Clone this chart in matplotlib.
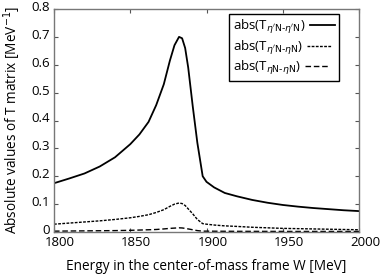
import matplotlib
matplotlib.use('Agg')
import matplotlib.pyplot as plt
import matplotlib.transforms as mtransforms
import numpy as np

W = [1800, 1810, 1820, 1830, 1840, 1850, 1856, 1862, 1867, 1872, 1876, 1879,
     1882, 1884, 1886, 1888, 1891, 1894, 1897.5, 1900, 1905, 1912, 1920, 1930,
     1940, 1950, 1960, 1970, 1980, 1990, 2000]

# |T| for eta'N -> eta'N
t_etap_etap = [0.175, 0.192, 0.210, 0.235, 0.268, 0.315, 0.350, 0.395, 0.455, 0.530,
               0.615, 0.670, 0.700, 0.695, 0.660, 0.590, 0.450, 0.320, 0.200, 0.180,
               0.160, 0.140, 0.128, 0.115, 0.105, 0.097, 0.091, 0.086, 0.082, 0.078,
               0.075]
# |T| for eta'N -> etaN
t_etap_eta = [0.028, 0.032, 0.036, 0.040, 0.045, 0.051, 0.056, 0.062, 0.070, 0.080,
              0.092, 0.100, 0.104, 0.102, 0.095, 0.083, 0.065, 0.045, 0.030, 0.028,
              0.025, 0.022, 0.020, 0.017, 0.015, 0.013, 0.012, 0.011, 0.010, 0.009,
              0.008]
# |T| for etaN -> etaN
t_eta_eta = [0.003, 0.0035, 0.004, 0.0045, 0.005, 0.006, 0.007, 0.008, 0.009, 0.011,
             0.013, 0.014, 0.015, 0.0145, 0.013, 0.011, 0.008, 0.005, 0.003, 0.003,
             0.0028, 0.0026, 0.0024, 0.0023, 0.0022, 0.0021, 0.002, 0.002, 0.002, 0.002,
             0.002]

labels = [r"abs(T$_{\eta'\mathrm{N}\text{-}\eta'\mathrm{N}}$)",
          r"abs(T$_{\eta'\mathrm{N}\text{-}\eta\mathrm{N}}$)",
          r"abs(T$_{\eta\mathrm{N}\text{-}\eta\mathrm{N}}$)"]

xticks = [1800, 1850, 1900, 1950, 2000]
yticks = [0, 0.1, 0.2, 0.3, 0.4, 0.5, 0.6, 0.7, 0.8]

plt.rcParams['font.family'] = ['Open Sans', 'DejaVu Sans']
plt.rcParams['mathtext.fontset'] = 'dejavusans'

fig = plt.figure(figsize=(3.82, 2.74), dpi=100)
ax = fig.add_axes([54 / 382, 42 / 274, 305 / 382, 223 / 274])

ax.plot(W, t_etap_etap, color='black', lw=1.3, label=labels[0])
ax.plot(W, t_etap_eta, color='black', lw=1.0, dashes=(2, 1), label=labels[1])
ax.plot(W, t_eta_eta, color='black', lw=1.0, dashes=(4, 2), label=labels[2])

ax.set_xlim(1800, 2000)
ax.set_ylim(0, 0.8)
ax.set_xticks(xticks)
ax.set_yticks(yticks)
ax.set_yticklabels(['0' if v == 0 else f'{v:.1f}' for v in yticks])
ax.tick_params(direction='in', length=3, width=0.8, color='#555555',
               top=True, right=True, labelsize=9.5, pad=3)
for s in ax.spines.values():
    s.set_color('#777777')
    s.set_linewidth(1.0)

# labels in the reference sit slightly off their ticks
for lab in ax.get_xticklabels():
    lab.set_transform(lab.get_transform() + mtransforms.ScaledTranslation(6 / 100, 0, fig.dpi_scale_trans))
for lab in ax.get_yticklabels():
    lab.set_transform(lab.get_transform() + mtransforms.ScaledTranslation(0, 3 / 100, fig.dpi_scale_trans))

ax.set_xlabel('Energy in the center-of-mass frame W [MeV]', fontsize=9.8, labelpad=7)
ax.set_ylabel(r'Absolute values of T matrix [MeV$^{-1}$]', fontsize=9.8, labelpad=6)

leg = ax.legend(loc='upper right', bbox_to_anchor=(0.934, 0.978), borderaxespad=0,
                fontsize=9.5, handlelength=1.9, labelspacing=0.2,
                fancybox=False, framealpha=1, edgecolor='black',
                borderpad=0.3, handletextpad=0.3)
leg.get_frame().set_linewidth(1.0)
# put the line samples after the text, keeping the text left-aligned
for col in leg._legend_handle_box.get_children():
    for row in col.get_children():
        row.get_children().reverse()

plt.savefig('out.png', dpi=100)
